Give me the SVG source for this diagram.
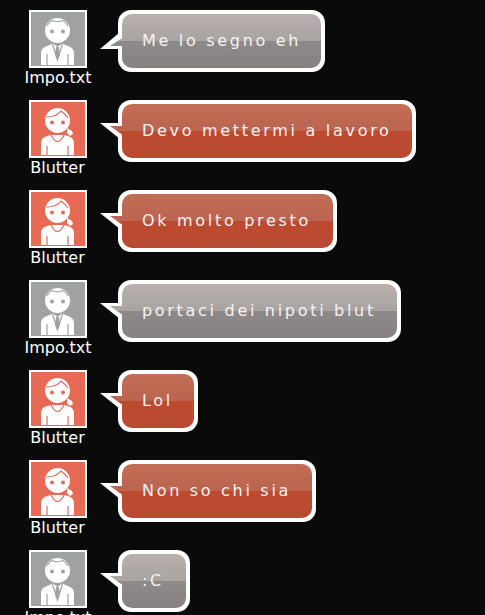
<svg xmlns="http://www.w3.org/2000/svg" xmlns:xlink="http://www.w3.org/1999/xlink" width="485" height="615" viewBox="0 0 485 615">
<style>
.name{font:16px "DejaVu Sans",Verdana,sans-serif;fill:#fff;text-anchor:middle}
.msg{font:16px "DejaVu Sans",Verdana,sans-serif;fill:#f6f2f2;letter-spacing:2.7px}
.w{fill:#fff}
.frame{fill:#fff}
.g{--p:#a0a2a1}
.r{--p:#e76a55}
.g .bub{fill:url(#gg)}
.r .bub{fill:url(#gr)}
.pic{fill:var(--p)}
.ln{fill:none;stroke:var(--p);stroke-width:1.2}
</style>
<defs>
<linearGradient id="gg" gradientUnits="userSpaceOnUse" x1="0" y1="14" x2="0" y2="68">
<stop offset="0" stop-color="#b8b1ae"/><stop offset=".5" stop-color="#a9a3a1"/><stop offset=".5" stop-color="#8f8a8a"/><stop offset="1" stop-color="#878282"/>
</linearGradient>
<linearGradient id="gr" gradientUnits="userSpaceOnUse" x1="0" y1="14" x2="0" y2="68">
<stop offset="0" stop-color="#c26d55"/><stop offset=".5" stop-color="#bb6450"/><stop offset=".5" stop-color="#bd4a30"/><stop offset="1" stop-color="#b84a33"/>
</linearGradient>
<g id="man">
<rect class="frame" x="29" y="10" width="58" height="58"/>
<rect class="pic" x="31" y="12" width="54" height="54"/>
<circle class="w" cx="57.500" cy="30.500" r="12.500"/>
<path class="ln" d="M47 26Q50 21 52 20.500Q57.500 23 63 20.500Q66 22 68 26"/>
<circle class="pic" cx="52" cy="31.500" r="2"/>
<circle class="pic" cx="63" cy="31.500" r="2"/>
<path class="w" d="M41 65V53Q41 48 47 46L53 43.500 57.500 47 62 43.500 68 46Q74 48 74 53V65Z"/>
<path class="ln" d="M52.500 44L57.500 60 62.500 44M47 54V65M68 54V65"/>
<path class="pic" d="M56 47H59L60 55 57.500 60 55 55Z"/>
</g>
<g id="woman">
<rect class="frame" x="29" y="10" width="58" height="58"/>
<rect class="pic" x="31" y="12" width="54" height="54"/>
<circle class="w" cx="57.500" cy="30.500" r="12.500"/>
<path class="ln" d="M46 27Q57 27 61 21Q65 24 68 28"/>
<circle class="pic" cx="52" cy="32.500" r="2"/>
<circle class="pic" cx="63" cy="32.500" r="2"/>
<path class="w" d="M67 38L72 41 73 44 70 46 67 43Z"/>
<path class="w" d="M41 65V53Q41 48 47 46L51 45H64L68 46Q74 48 74 53V65Z"/>
<path class="ln" d="M51 45Q57.500 58 64 45M47 56V65M68 56V65"/>
</g>
<path id="ta" class="w" d="M100 49L119 33V49Z"/>
<path id="tai" d="M110 46L124 37V46Z"/>
<path id="tb" class="w" d="M100 33H120V49Z"/>
<path id="tbi" d="M110 36H124V46Z"/>
</defs>
<rect width="485" height="615" fill="#0a0a0a"/>
<g id="connectors"/>

<g id="node-1" class="g">
<use xlink:href="#man"/>
<text class="name" x="58" y="83">Impo.txt</text>
<use xlink:href="#ta"/><rect class="w" x="118" y="10" width="207" height="62" rx="13"/>
<rect class="bub" x="122" y="14" width="199" height="54" rx="10"/><use class="bub" xlink:href="#tai"/>
<text class="msg" x="142" y="46">Me lo segno eh</text>
</g>

<g id="node-2" class="r" transform="translate(0,90)">
<use xlink:href="#woman"/>
<text class="name" x="57.500" y="83">Blutter</text>
<use xlink:href="#tb"/><rect class="w" x="118" y="10" width="298" height="62" rx="13"/>
<rect class="bub" x="122" y="14" width="290" height="54" rx="10"/><use class="bub" xlink:href="#tbi"/>
<text class="msg" x="142" y="46">Devo mettermi a lavoro</text>
</g>

<g id="node-3" class="r" transform="translate(0,180)">
<use xlink:href="#woman"/>
<text class="name" x="57.500" y="83">Blutter</text>
<use xlink:href="#tb"/><rect class="w" x="118" y="10" width="219" height="62" rx="13"/>
<rect class="bub" x="122" y="14" width="211" height="54" rx="10"/><use class="bub" xlink:href="#tbi"/>
<text class="msg" x="142" y="46">Ok molto presto</text>
</g>

<g id="node-4" class="g" transform="translate(0,270)">
<use xlink:href="#man"/>
<text class="name" x="58" y="83">Impo.txt</text>
<use xlink:href="#tb"/><rect class="w" x="118" y="10" width="283" height="62" rx="13"/>
<rect class="bub" x="122" y="14" width="275" height="54" rx="10"/><use class="bub" xlink:href="#tbi"/>
<text class="msg" x="142" y="46">portaci dei nipoti blut</text>
</g>

<g id="node-5" class="r" transform="translate(0,360)">
<use xlink:href="#woman"/>
<text class="name" x="57.500" y="83">Blutter</text>
<use xlink:href="#tb"/><rect class="w" x="118" y="10" width="80" height="62" rx="13"/>
<rect class="bub" x="122" y="14" width="72" height="54" rx="10"/><use class="bub" xlink:href="#tbi"/>
<text class="msg" x="142" y="46">Lol</text>
</g>

<g id="node-6" class="r" transform="translate(0,450)">
<use xlink:href="#woman"/>
<text class="name" x="57.500" y="83">Blutter</text>
<use xlink:href="#tb"/><rect class="w" x="118" y="10" width="198" height="62" rx="13"/>
<rect class="bub" x="122" y="14" width="190" height="54" rx="10"/><use class="bub" xlink:href="#tbi"/>
<text class="msg" x="142" y="46">Non so chi sia</text>
</g>

<g id="node-7" class="g" transform="translate(0,540)">
<use xlink:href="#man"/>
<text class="name" x="58" y="83">Impo.txt</text>
<use xlink:href="#tb"/><rect class="w" x="118" y="10" width="72" height="62" rx="13"/>
<rect class="bub" x="122" y="14" width="64" height="54" rx="10"/><use class="bub" xlink:href="#tbi"/>
<text class="msg" x="142" y="46">:C</text>
</g>
</svg>
